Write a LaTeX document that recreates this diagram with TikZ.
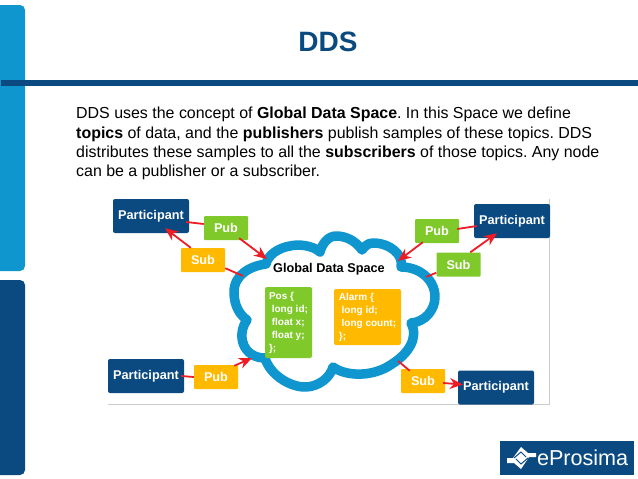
\documentclass[tikz,border=0pt]{standalone}
\usepackage{fontspec}
\setmainfont{Liberation Sans}
\usepackage{tikz}
\usetikzlibrary{arrows.meta}
\definecolor{ddsdark}{HTML}{0B4A80}
\definecolor{ddslight}{HTML}{0F96CF}
\definecolor{ddsgreen}{HTML}{7FC92A}
\definecolor{ddsorange}{HTML}{FFBA00}
\definecolor{ddsred}{HTML}{EE1C25}
\begin{document}
\frenchspacing
\begin{tikzpicture}[x=1pt, y=-1pt, font=\bfseries\fontsize{12.7}{14}\selectfont]
\tikzstyle{part}=[rectangle, rounded corners=2pt, fill=ddsdark, text=white, minimum width=76pt, minimum height=34pt, inner sep=0pt]
\tikzstyle{tag}=[rectangle, rounded corners=1pt, text=white, minimum width=44pt, minimum height=24pt, inner sep=0pt]
\tikzstyle{code}=[rectangle, rounded corners=2pt, text=white, align=left, inner sep=0pt, font=\bfseries\fontsize{10}{13}\selectfont]
\tikzstyle{link}=[draw=ddsred, line width=1.8pt]
\tikzstyle{flow}=[link, -{Stealth[length=13pt, width=11pt]}]
\useasboundingbox (0,0) rectangle (638,479);
\fill[white] (0,0) rectangle (638,479);
% slide frame
\fill[ddslight, rounded corners=5pt] (-8,5) rectangle (25,271);
\fill[ddsdark, rounded corners=5pt] (-8,280) rectangle (25,475);
\fill[ddsdark] (1,80) rectangle (638,86);
\node[text=ddsdark, font=\bfseries\fontsize{28}{30}\selectfont] (title) at (328,42) {DDS};
\node[anchor=north west, align=left, inner sep=0pt, font=\fontsize{15.95}{19.3}\selectfont] (intro) at (76,107) {DDS uses the concept of \textbf{Global Data Space}. In this Space we define\\\textbf{topics} of data, and the \textbf{publishers} publish samples of these topics. DDS\\distributes these samples to all the \textbf{subscribers} of those topics. Any node\\can be a publisher or a subscriber.};
% picture border
\draw[gray!40, line width=0.8pt] (108,404) -- (549,404) -- (549,199);
% cloud
\draw[ddslight, line width=9.5pt, fill=white, line join=round] (266,264)
  .. controls (250,266) and (234,275) .. (234,292) .. controls (234,306) and (240,315) .. (247,320)
  .. controls (236,335) and (243,358) .. (265,358)
  .. controls (270,375) and (290,387) .. (305,387) .. controls (318,387) and (330,378) .. (333,367)
  .. controls (345,376) and (372,378) .. (392,364) .. controls (408,354) and (419,338) .. (411,323)
  .. controls (425,322) and (435,310) .. (435,297) .. controls (435,280) and (420,267) .. (401,267)
  .. controls (404,255) and (390,243) .. (373,243) .. controls (368,243) and (365,246) .. (362,250)
  .. controls (355,240) and (345,236) .. (336,236) .. controls (328,236) and (322,244) .. (320,252)
  .. controls (312,245) and (298,244) .. (290,246) .. controls (278,248) and (268,255) .. (266,264) -- cycle;
\node (space) at (329,269) {Global Data Space};
\node[code, fill=ddsgreen, minimum width=47pt, minimum height=71pt] (pos) at (288.5,322.5) {Pos \{\\\ long id;\\\ float x;\\\ float y;\\\};};
\node[code, fill=ddsorange, minimum width=67pt, minimum height=56pt] (alarm) at (367.5,317) {Alarm \{\\\ long id;\\\ long count;\\\};};
% participants and tags
\node[part] (parttl) at (151,216) {Participant};
\node[part] (partbl) at (146,376) {Participant};
\node[part] (parttr) at (512,221) {Participant};
\node[part] (partbr) at (496,387.5) {Participant};
\node[tag, fill=ddsgreen] (pubtl) at (226,228) {Pub};
\node[tag, fill=ddsorange] (subtl) at (203,260) {Sub};
\node[tag, fill=ddsorange] (pubbl) at (216,377) {Pub};
\node[tag, fill=ddsgreen] (pubtr) at (437,231) {Pub};
\node[tag, fill=ddsgreen] (subtr) at (458.5,264.5) {Sub};
\node[tag, fill=ddsorange] (subbr) at (423,381) {Sub};
% free ends on the cloud
\coordinate (cloudpubtl) at (267,259);
\coordinate (cloudsubtl) at (243,276);
\coordinate (cloudpubbl) at (252,358);
\coordinate (cloudpubtr) at (398,261);
\coordinate (cloudsubtr) at (426,277);
\coordinate (cloudsubbr) at (398,361);
% connectors
\draw[link] ([yshift=4pt]pubtl.west) -- ([xshift=-3pt, yshift=-6pt]parttl.east);
\draw[flow] ([xshift=-9pt, yshift=2pt]pubtl.south east) -- (cloudpubtl);
\draw[flow] ([xshift=10pt]subtl.north west) -- ([xshift=14pt, yshift=5pt]parttl.south);
\draw[link] ([yshift=4pt]subtl.south east) -- (cloudsubtl);
\draw[link] (pubbl.west) -- ([xshift=-3pt]partbl.east);
\draw[flow] ([xshift=-4pt, yshift=-1pt]pubbl.north east) -- (cloudpubbl);
\draw[flow] ([xshift=8pt, yshift=1pt]pubtr.south west) -- (cloudpubtr);
\draw[link] ([xshift=-2pt, yshift=2pt]pubtr.east) -- ([xshift=3pt, yshift=-5pt]parttr.west);
\draw[link] ([yshift=4pt]subtr.south west) -- (cloudsubtr);
\draw[flow] ([xshift=34pt]subtr.north west) -- ([xshift=-15pt, yshift=5pt]parttr.south);
\draw[link] ([xshift=9pt, yshift=-2pt]subbr.north west) -- (cloudsubbr);
\draw[flow] ([xshift=-2pt, yshift=-2pt]subbr.east) -- ([xshift=5pt, yshift=3pt]partbr.west);
% logo
\node[fill=ddsdark, minimum width=134pt, minimum height=34pt, inner sep=0pt] (logo) at (567,457.5) {};
\node[text=white, anchor=west, inner sep=0pt, font=\fontsize{21.6}{22}\selectfont] (logotext) at ([xshift=37pt]logo.west) {eProsima};
\fill[white] (507,458) -- (513,458) -- (521,447) -- (528,453) -- (536,453) -- (536,457) -- (529,457) -- (521,469) -- (514,463) -- (507,463) -- cycle;
\draw[ddsdark, line width=1pt] (514,458) -- (521,452) -- (526,457) (528,458) -- (521,464) -- (516,459);
\end{tikzpicture}
\end{document}
